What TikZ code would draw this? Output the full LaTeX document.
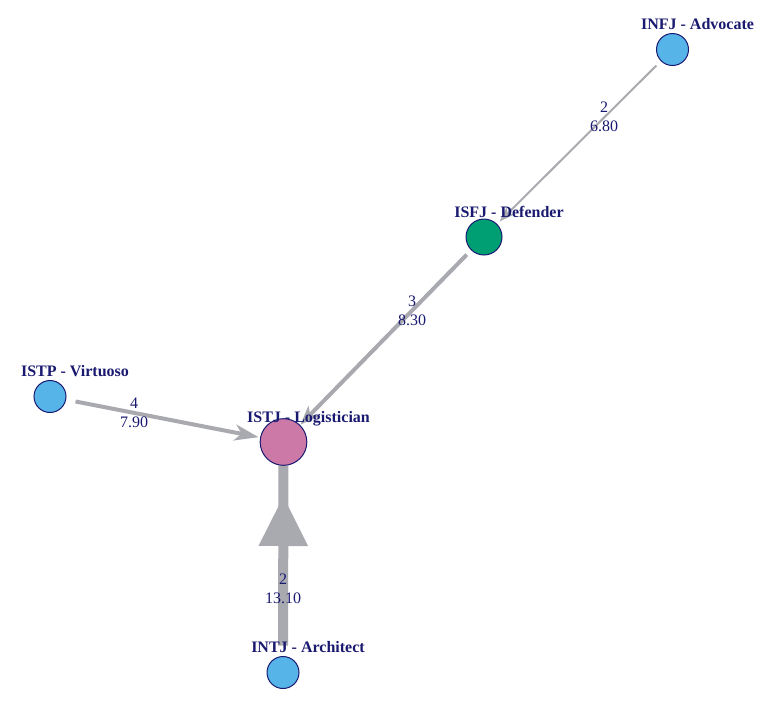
\documentclass[tikz,border=0pt]{standalone}
\usepackage{fontspec}
\setmainfont{Liberation Serif}
\usetikzlibrary{arrows.meta, calc, decorations.markings, backgrounds}
\definecolor{typeblue}{RGB}{86,180,233}
\definecolor{typegreen}{RGB}{0,158,115}
\definecolor{typepink}{RGB}{204,121,167}
\definecolor{navytext}{RGB}{25,25,112}
\definecolor{edgegray}{RGB}{169,169,176}

\begin{document}
\begin{tikzpicture}[
    x=0.75pt, y=-0.75pt,
    vertex/.style={circle, draw=navytext, line width=0.75pt, inner sep=0pt, outer sep=0pt, minimum size=24pt},
    vlabel/.style={font=\fontsize{12}{14}\selectfont\bfseries, text=navytext, anchor=base, inner sep=0pt},
    elabel/.style={font=\fontsize{12}{14.5}\selectfont, text=navytext, align=center, inner sep=0pt},
    link/.style={color=edgegray, line width=#1}
]
\useasboundingbox (0,0) rectangle (775,711);

% Vertices
\node[vertex, fill=typeblue] (infj) at (672.5,49.5) {};
\node[vertex, fill=typegreen, minimum size=27pt] (isfj) at (484,237) {};
\node[vertex, fill=typeblue] (istp) at (50,396.5) {};
\node[vertex, fill=typepink, minimum size=35pt] (istj) at (283.5,442) {};
\node[vertex, fill=typeblue] (intj) at (283,672.5) {};

% Edges
\begin{scope}[on background layer]
\draw[link=1.5pt, shorten <=5pt, shorten >=3pt, -{Stealth[length=11pt, width=7.5pt, inset=2.5pt]}] (infj) -- (isfj);
\draw[link=3pt, shorten <=5pt, shorten >=0.75pt, -{Stealth[length=14pt, width=11pt, inset=3.5pt]}] (isfj) -- (istj);
\draw[link=3pt, shorten <=7.5pt, shorten >=1.5pt, -{Stealth[length=18pt, width=12pt, inset=5pt]}] (istp) -- (istj);
\draw[link=7.5pt, shorten <=8.25pt, postaction={decorate},
    decoration={markings, mark=at position -23pt with {\arrow{Triangle[length=37.5pt, width=35pt]}}}] (intj) -- (istj);
\end{scope}

% Edge labels
\node[elabel] (l-infj-isfj) at (604,117) {2\\6.80};
\node[elabel] (l-isfj-istj) at (412,311) {3\\8.30};
\node[elabel] (l-istp-istj) at (134,413) {4\\7.90};
\node[elabel] (l-intj-istj) at (283,589) {2\\13.10};

% Vertex labels
\node[vlabel] (infj-l) at ($(infj)+(25,-20)$) {INFJ - Advocate};
\node[vlabel] (isfj-l) at ($(isfj)+(25,-20)$) {ISFJ - Defender};
\node[vlabel] (istp-l) at ($(istp)+(25,-20)$) {ISTP - Virtuoso};
\node[vlabel] (istj-l) at ($(istj)+(25,-20)$) {ISTJ - Logistician};
\node[vlabel] (intj-l) at ($(intj)+(25,-20)$) {INTJ - Architect};

\end{tikzpicture}
\end{document}
